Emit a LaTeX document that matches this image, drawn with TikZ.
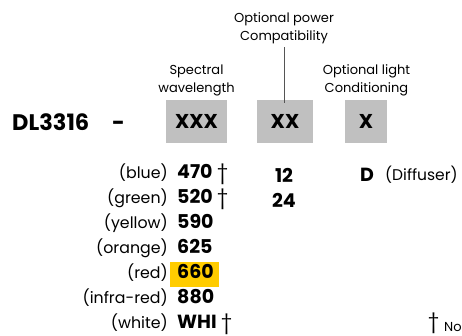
\documentclass[tikz,border=0pt]{standalone}
\usepackage{fontspec}
\setmainfont{Poppins}
\definecolor{boxgray}{HTML}{C0C0C0}
\definecolor{hiyellow}{HTML}{FFCC00}
\definecolor{linegray}{HTML}{555555}
\begin{document}
\begin{tikzpicture}[x=1pt,y=-1pt,
  codebox/.style={fill=boxgray,draw=none,inner sep=0pt,font=\fontsize{20}{20}\selectfont\bfseries},
  toplabel/.style={align=center,inner sep=0pt,font=\fontsize{13}{18}\selectfont},
  rowlabel/.style={anchor=base east,inner sep=0pt,font=\fontsize{15.8}{15.8}\selectfont},
  rownum/.style={anchor=base west,inner sep=0pt,font=\fontsize{19}{19}\selectfont\bfseries},
  dag/.style={anchor=base west,inner sep=0pt,font=\fontsize{20}{20}\selectfont}]
\useasboundingbox (0,0) rectangle (462,335);
% boxes
\node[codebox,minimum width=61pt,minimum height=43pt] (b1) at (196.5,121.5) {XXX};
\node[codebox,minimum width=56pt,minimum height=43pt] (b2) at (285,121.5) {XX};
\node[codebox,minimum width=42pt,minimum height=43pt] (b3) at (366,121.5) {X};
% part number
\node[anchor=base west,inner sep=0pt,font=\fontsize{22.5}{22.5}\selectfont\bfseries] (pn) at (12,130) {DL3316};
\node[anchor=base,inner sep=0pt,font=\fontsize{22}{22}\selectfont\bfseries] (dash) at (118.5,130) {-};
% top labels
\node[toplabel,anchor=south] (spec) at (196.5,96) {Spectral\\wavelength};
\node[toplabel,anchor=south] (pow) at (284,44) {Optional power\\Compatibility};
\node[toplabel,anchor=south] (opt) at (366.5,96) {Optional light\\Conditioning};
\draw[linegray,line width=1pt] (pow.south) ++(0,3) coordinate (ls) (ls) -- ([yshift=-3pt]ls |- b2.north) coordinate (le);
% highlight
\fill[hiyellow] (170,262) rectangle (219,287);
% rows
\foreach \lab/\num/\y/\d [count=\i] in {(blue)/470/178.5/1,(green)/520/203.5/1,(yellow)/590/228.5/0,(orange)/625/253.5/0,(red)/660/278.5/0,(infra-red)/880/303.5/0,(white)/WHI/328.5/1}{
  \node[rowlabel] (l\i) at (168,\y) {\lab};
  \node[rownum] (n\i) at (177,\y) {\num};
  \ifnum\d=1 \node[dag] (d\i) at ([xshift=4pt,yshift=-1pt]n\i.base east) {†};\fi
}
\node[rownum,anchor=base] (p12) at (284,182) {12};
\node[rownum,anchor=base] (p24) at (284,207) {24};
\node[rownum,anchor=base west] (dd) at (360,181) {D};
\node[anchor=base west,inner sep=0pt,font=\fontsize{15.5}{15.5}\selectfont] (diff) at (385,180) {(Diffuser)};
\node[dag] (fd) at (428,328) {†};
\node[anchor=base west,inner sep=0pt,font=\fontsize{13}{13}\selectfont] (note) at (444,331) {No};
\end{tikzpicture}
\end{document}
